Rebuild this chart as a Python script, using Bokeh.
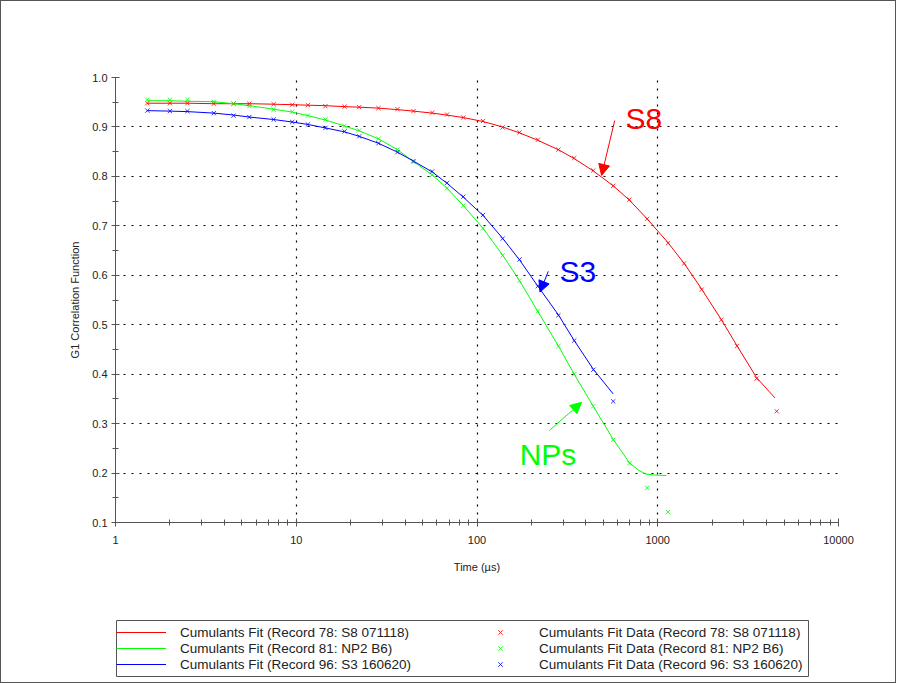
from bokeh.plotting import figure
from bokeh.layouts import column
from bokeh.models import (FixedTicker, Legend, LegendItem, Label, Arrow, NormalHead,
                          Range1d, PrintfTickFormatter, BoxAnnotation)
from bokeh.embed import file_html
from bokeh.resources import INLINE

# ---------------- data ----------------
t_red = [1.5, 2.0, 2.5, 3.5, 4.5, 5.5, 7.5, 9.5, 11.6, 14.5, 18.5, 22.3, 28.5, 36.3, 44.5,
         56.5, 68.3, 84, 108, 138.5, 172, 217, 282, 345, 440, 567, 697, 874, 1140, 1400,
         1750, 2250, 2740, 3520, 4550]
y_red = [0.948, 0.948, 0.948, 0.947, 0.947, 0.947, 0.946, 0.945, 0.944, 0.942, 0.941, 0.940,
         0.938, 0.936, 0.932, 0.929, 0.925, 0.919, 0.912, 0.899, 0.889, 0.874, 0.854, 0.837,
         0.812, 0.781, 0.753, 0.714, 0.665, 0.624, 0.571, 0.510, 0.457, 0.391, 0.325]
fit_t_red = [1.5, 2.0, 2.5, 3.5, 4.5, 5.5, 7.5, 9.5, 11.6, 14.5, 18.5, 22.3, 28.5, 36.3, 44.5,
             56.5, 68.3, 84, 108, 138.5, 172, 217, 282, 345, 440, 567, 697, 874, 1140, 1400,
             1750, 2250, 2740, 3520, 4450]
fit_y_red = [0.948, 0.948, 0.948, 0.947, 0.947, 0.947, 0.946, 0.945, 0.944, 0.943, 0.941, 0.940,
             0.938, 0.935, 0.932, 0.928, 0.924, 0.919, 0.911, 0.900, 0.888, 0.873, 0.854, 0.836,
             0.811, 0.781, 0.752, 0.714, 0.666, 0.624, 0.572, 0.510, 0.458, 0.393, 0.352]

t_green = [1.5, 2.0, 2.5, 3.5, 4.5, 5.5, 7.5, 9.5, 11.6, 14.5, 18.5, 22.3, 28.5, 36.3, 44.5,
           56.5, 68.3, 84, 108, 138.5, 172, 217, 282, 345, 440, 567, 697, 874, 1140]
y_green = [0.955, 0.955, 0.955, 0.951, 0.947, 0.942, 0.935, 0.931, 0.923, 0.915, 0.902, 0.893,
           0.876, 0.854, 0.829, 0.803, 0.776, 0.741, 0.695, 0.640, 0.589, 0.527, 0.457, 0.400,
           0.335, 0.267, 0.220, 0.170, 0.121]
fit_t_green = [1.5, 2.0, 2.5, 3.5, 4.5, 5.5, 7.5, 9.5, 11.6, 14.5, 18.5, 22.3, 28.5, 36.3, 44.5,
               56.5, 68.3, 84, 108, 138.5, 172, 217, 282, 345, 440, 567, 697, 780, 860, 960, 1115]
fit_y_green = [0.953, 0.953, 0.952, 0.951, 0.947, 0.943, 0.936, 0.930, 0.923, 0.914, 0.902, 0.892,
               0.876, 0.854, 0.830, 0.803, 0.776, 0.741, 0.695, 0.641, 0.589, 0.527, 0.457, 0.400,
               0.335, 0.268, 0.221, 0.206, 0.198, 0.196, 0.195]

t_blue = [1.5, 2.0, 2.5, 3.5, 4.5, 5.5, 7.5, 9.5, 11.6, 14.5, 18.5, 22.3, 28.5, 36.3, 44.5,
          56.5, 68.3, 84, 108, 138.5, 172, 217, 282, 345, 440, 567]
y_blue = [0.933, 0.932, 0.932, 0.928, 0.923, 0.920, 0.915, 0.910, 0.905, 0.898, 0.891, 0.881,
          0.867, 0.849, 0.831, 0.810, 0.787, 0.759, 0.722, 0.674, 0.632, 0.578, 0.519, 0.468,
          0.409, 0.345]
fit_t_blue = [1.5, 2.0, 2.5, 3.5, 4.5, 5.5, 7.5, 9.5, 11.6, 14.5, 18.5, 22.3, 28.5, 36.3, 44.5,
              56.5, 68.3, 84, 108, 138.5, 172, 217, 282, 345, 440, 567]
fit_y_blue = [0.933, 0.932, 0.931, 0.928, 0.924, 0.920, 0.915, 0.910, 0.905, 0.898, 0.890, 0.881,
              0.867, 0.849, 0.831, 0.809, 0.786, 0.758, 0.721, 0.675, 0.631, 0.578, 0.520, 0.468,
              0.410, 0.360]

fit_labels = ["Cumulants Fit (Record 78: S8 071118)",
              "Cumulants Fit (Record 81: NP2 B6)",
              "Cumulants Fit (Record 96: S3 160620)"]
data_labels = ["Cumulants Fit Data (Record 78: S8 071118)",
               "Cumulants Fit Data (Record 81: NP2 B6)",
               "Cumulants Fit Data (Record 96: S3 160620)"]
colors = ["#ff0000", "#00ff00", "#0000ff"]

x_major = [1, 10, 100, 1000, 10000]
x_labels = ["1", "10", "100", "1000", "10000"]
y_major = [0.1, 0.2, 0.3, 0.4, 0.5, 0.6, 0.7, 0.8, 0.9, 1.0]
y_minor = [0.15, 0.25, 0.35, 0.45, 0.55, 0.65, 0.75, 0.85, 0.95]
x_minor = [m * 10 ** d for d in range(4) for m in range(2, 10)]

# annotation positions (data coords)
ann_text = ["S8", "S3", "NPs"]
ann_xy = [(837, 0.917), (361, 0.608), (247, 0.238)]
arrow_start = [(578, 0.913), (248, 0.608), (251, 0.286)]
arrow_end = [(489, 0.802), (223, 0.566), (379, 0.343)]
ann_colors = ["#ff0000", "#0000ff", "#00ff00"]

FONT = "Liberation Sans"
TXT = "#222222"
AXC = "#555555"

p = figure(width=894, height=599, x_axis_type="log",
           x_range=Range1d(1, 10000), y_range=Range1d(0.1, 1.0),
           output_backend="svg", toolbar_location=None,
           min_border_left=114, min_border_right=57, min_border_top=76, min_border_bottom=78)
p.outline_line_color = None
p.background_fill_color = "white"
p.border_fill_color = "white"

# axes
p.xaxis.ticker = FixedTicker(ticks=x_major, minor_ticks=x_minor)
p.xaxis.major_label_overrides = {float(v): s for v, s in zip(x_major, x_labels)}
p.yaxis.ticker = FixedTicker(ticks=y_major, minor_ticks=y_minor)
p.yaxis.formatter = PrintfTickFormatter(format="%.1f")
for ax in (p.xaxis[0], p.yaxis[0]):
    ax.axis_line_color = AXC
    ax.major_tick_line_color = AXC
    ax.minor_tick_line_color = AXC
    ax.major_tick_in = 4
    ax.major_tick_out = 4
    ax.minor_tick_in = 3
    ax.minor_tick_out = 3
    ax.major_label_text_font = FONT
    ax.major_label_text_font_size = "11px"
    ax.major_label_text_color = TXT
    ax.axis_label_text_font = FONT
    ax.axis_label_text_font_size = "11px"
    ax.axis_label_text_font_style = "normal"
    ax.axis_label_text_color = TXT
p.xaxis.axis_label = "Time (µs)"
p.yaxis.axis_label = "G1 Correlation Function"
p.xaxis.major_label_standoff = 9
p.yaxis.major_label_standoff = 4
p.xaxis.axis_label_standoff = 14
p.yaxis.axis_label_standoff = 8

# grid
p.xgrid.ticker = FixedTicker(ticks=x_major)
p.ygrid.ticker = FixedTicker(ticks=y_major)
for g in (p.xgrid[0], p.ygrid[0]):
    g.grid_line_color = "black"
    g.grid_line_dash = "2 6"
    g.grid_line_width = 1.2

# series
fits = [(fit_t_red, fit_y_red), (fit_t_green, fit_y_green), (fit_t_blue, fit_y_blue)]
pts = [(t_red, y_red), (t_green, y_green), (t_blue, y_blue)]
for (ft, fy), c in zip(fits, colors):
    p.line(ft, fy, line_color=c, line_width=1)
for (pt, py), c in zip(pts, colors):
    p.scatter(pt, py, marker="x", size=6, line_color=c, line_width=1, line_alpha=0.8)

# annotations
for txt, (ax_, ay_), (sx_, sy_), (ex_, ey_), c in zip(ann_text, ann_xy, arrow_start, arrow_end, ann_colors):
    p.add_layout(Arrow(end=NormalHead(size=11, fill_color=c, line_color=c),
                       x_start=sx_, y_start=sy_, x_end=ex_, y_end=ey_,
                       line_color=c, line_width=1))
    p.add_layout(Label(x=ax_, y=ay_, text=txt, text_align="center", text_baseline="middle",
                       text_font=FONT, text_font_size="30px", text_color=c))

# title
p.add_layout(Label(x=340, y=495, x_units="screen", y_units="screen", text="Cumulants Fit",
                   text_align="center", text_baseline="middle", text_font=FONT,
                   text_font_size="11.5px", text_color=TXT))

# ---------------- legend panel (below the chart) ----------------
# the legend figure holds the same series, but its ranges keep the glyphs out of view
p2 = figure(width=894, height=82, x_range=Range1d(-2, -1), y_range=Range1d(-2, -1),
            x_axis_type=None, y_axis_type=None, output_backend="svg", toolbar_location=None,
            min_border=0)
p2.outline_line_color = None
p2.xgrid.visible = False
p2.ygrid.visible = False
p2.border_fill_color = "white"
p2.background_fill_color = "white"
leg_fit_r = [p2.line(ft, fy, line_color=c, line_width=1) for (ft, fy), c in zip(fits, colors)]
leg_pts_r = [p2.scatter(pt, py, marker="x", size=6, line_color=c, line_width=1, line_alpha=0.8)
             for (pt, py), c in zip(pts, colors)]

# frame round the legend
p2.add_layout(BoxAnnotation(left=1, right=693, bottom=6, top=62,
                            left_units="screen", right_units="screen",
                            bottom_units="screen", top_units="screen",
                            fill_alpha=0.0, line_color=AXC, line_width=1, line_alpha=1.0))

common = dict(padding=4, spacing=0, margin=0, glyph_width=50, glyph_height=16, label_height=16,
              label_standoff=14, label_text_font=FONT, label_text_font_size="13.5px",
              label_text_color=TXT, border_line_color=None, background_fill_alpha=0.0)
leg1 = Legend(items=[LegendItem(label=l, renderers=[r]) for l, r in zip(fit_labels, leg_fit_r)],
              location=(1, 10), label_width=250, **common)
leg2 = Legend(items=[LegendItem(label=l, renderers=[r]) for l, r in zip(data_labels, leg_pts_r)],
              location=(360, 10), label_width=250, **common)
p2.add_layout(leg1)
p2.add_layout(leg2)

layout = column(p, p2, spacing=0)
layout.styles = {"border": "1px solid #555555"}

open("out.html", "w").write(file_html(layout, INLINE))
